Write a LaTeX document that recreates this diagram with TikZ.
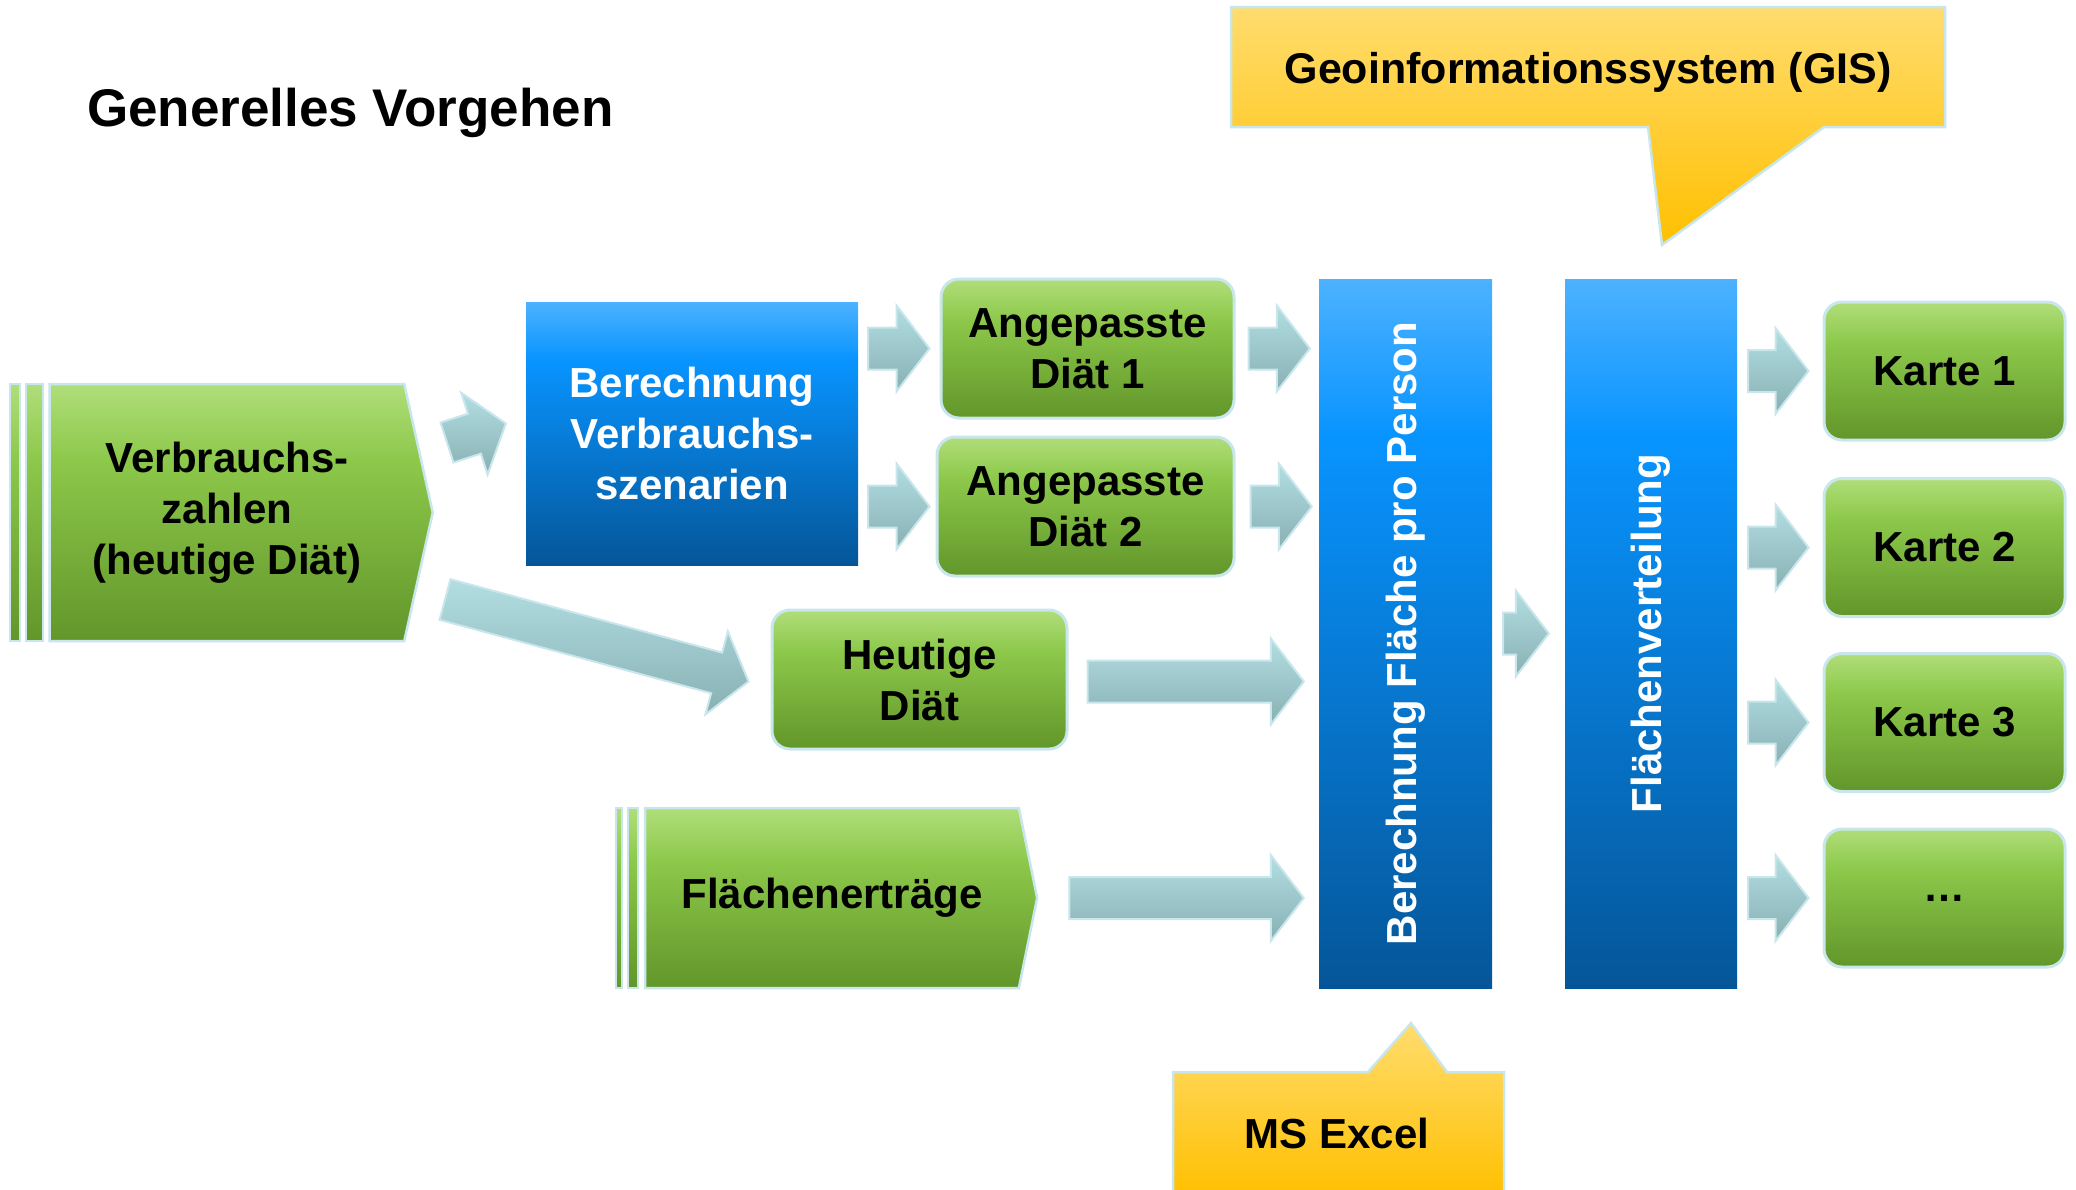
\documentclass[tikz,border=0pt]{standalone}
\usepackage{fontspec}
\setmainfont{Liberation Sans}
\usepackage{tikz}
\usetikzlibrary{calc,shapes.symbols}
\usepackage{xcolor}
\definecolor{mybluetop}{RGB}{77,178,255}
\definecolor{mybluemid}{RGB}{8,148,255}
\definecolor{mybluebot}{RGB}{5,86,152}
\definecolor{mygreentop}{RGB}{176,222,122}
\definecolor{mygreenmid}{RGB}{140,200,74}
\definecolor{mygreenbot}{RGB}{98,150,42}
\definecolor{myyellowtop}{RGB}{255,220,110}
\definecolor{myyellowbot}{RGB}{255,192,0}
\definecolor{myarrowtop}{RGB}{178,222,226}
\definecolor{myarrowbot}{RGB}{136,176,179}
\definecolor{myedge}{RGB}{200,230,235}
\pgfdeclareverticalshading{bluefill}{100bp}{color(0bp)=(mybluebot); color(25bp)=(mybluebot); color(64bp)=(mybluemid); color(75bp)=(mybluetop); color(100bp)=(mybluetop)}
\pgfdeclareverticalshading{greenfill}{100bp}{color(0bp)=(mygreenbot); color(25bp)=(mygreenbot); color(60bp)=(mygreenmid); color(75bp)=(mygreentop); color(100bp)=(mygreentop)}
\tikzstyle{box}=[font=\fontsize{42}{51}\selectfont\bfseries,align=center,inner sep=0]
\tikzstyle{box blue}=[box,text=white,shade,shading=bluefill]
\tikzstyle{box green}=[box,shade,shading=greenfill,draw=myedge,line width=3pt,rounded corners=18pt]
\tikzstyle{chevron}=[box,shape=signal,signal to=east,shade,shading=greenfill,draw=myedge,line width=2.5pt]
\tikzstyle{stripe}=[shade,shading=greenfill,draw=myedge,line width=2.5pt]
\tikzstyle{callout}=[top color=myyellowtop,bottom color=myyellowbot,draw=myedge,line width=2.5pt]
\tikzstyle{flow}=[top color=myarrowtop,bottom color=myarrowbot,draw=myedge,line width=2pt]
% block arrow from #1 to #2
\newcommand{\flowarrow}[2]{%
  \coordinate (fa-s) at #1;
  \coordinate (fa-t) at #2;
  \coordinate (fa-h) at ($(fa-t)!33pt!(fa-s)$);
  \path[flow] ($(fa-s)!21pt!90:(fa-t)$) -- ($(fa-h)!21pt!90:(fa-t)$) -- ($(fa-h)!43pt!90:(fa-t)$)
    -- (fa-t) -- ($(fa-h)!43pt!-90:(fa-t)$) -- ($(fa-h)!21pt!-90:(fa-t)$) -- ($(fa-s)!21pt!-90:(fa-t)$) -- cycle;}

\begin{document}
\begin{tikzpicture}[x=1pt,y=-1pt]
  \useasboundingbox (0,0) rectangle (2076,1189);

  % TITLE
  \node[anchor=base west,inner sep=0,font=\fontsize{53}{60}\selectfont\bfseries] (title) at (87,126) {Generelles Vorgehen};

  % INPUTS
  \path[stripe] (10,384) rectangle (20,641);
  \path[stripe] (26,384) rectangle (43,641);
  \node[chevron,signal pointer angle=155,minimum width=383pt,minimum height=257pt] (vz) at (227,512.5) {Verbrauchs-\\zahlen\\(heutige Diät)};

  \path[stripe] (616,808) rectangle (622,988);
  \path[stripe] (628,808) rectangle (638,988);
  \node[chevron,signal pointer angle=157,minimum width=392pt,minimum height=180pt] (fe) at (832,898) {Flächenerträge};

  % DRAW NODES
  \node[box blue,minimum width=332pt,minimum height=263pt] (bvs) at (692,433.5) {Berechnung\\Verbrauchs-\\szenarien};
  \node[box green,minimum width=293pt,minimum height=139pt] (ang1) at (1087.5,348.5) {Angepasste\\Diät 1};
  \node[box green,minimum width=297pt,minimum height=139pt] (ang2) at (1085.5,506.5) {Angepasste\\Diät 2};
  \node[box green,minimum width=295pt,minimum height=139pt] (hd) at (919.5,679.5) {Heutige\\Diät};

  \node[box blue,minimum width=173pt,minimum height=709pt] (bfp) at (1405.5,633.5) {};
  \node[box,text=white,rotate=90] (bfp-text) at (bfp) {Berechnung Fläche pro Person};
  \node[box blue,minimum width=172pt,minimum height=709pt] (fv) at (1651,633.5) {};
  \node[box,text=white,rotate=90] (fv-text) at (fv) {Flächenverteilung};

  \foreach \i/\t/\y in {1/Karte 1/371,2/Karte 2/547.5,3/Karte 3/722.5,4/…/898}{
    \node[box green,minimum width=241pt,minimum height=138pt] (k\i) at (1944.5,\y) {\t};
  }

  % CALLOUTS
  \path[callout] (1231,7) -- (1945,7) -- (1945,127) -- (1824,127) -- (1662,245) -- (1648,127) -- (1231,127) -- cycle;
  \node[box,font=\fontsize{43}{51}\selectfont\bfseries] (gis) at (1588,72) {Geoinformationssystem (GIS)};
  \path[callout] (1173,1196) -- (1173,1072) -- (1368,1072) -- (1411,1023) -- (1447,1072) -- (1504,1072) -- (1504,1196) -- cycle;
  \node[box] (excel) at (1337,1133) {MS Excel};

  % DRAW EDGES
  \flowarrow{($(vz.east)+(13,-70)$)}{($(bvs.west)+(-20,-10)$)}
  \flowarrow{($(vz.east)+(11,87)$)}{($(hd.west)+(-22,2)$)}
  \flowarrow{($(bvs.east |- ang1)+(10,0)$)}{($(ang1.west)+(-10,0)$)}
  \flowarrow{($(bvs.east |- ang2)+(10,0)$)}{($(ang2.west)+(-6,0)$)}
  \flowarrow{($(ang1.east)+(13,0)$)}{($(bfp.west |- ang1)+(-9,0)$)}
  \flowarrow{($(ang2.east)+(15,0)$)}{($(bfp.west |- ang2)+(-7,0)$)}
  \flowarrow{($(hd.east)+(19,2)$)}{($(bfp.west |- hd)+(-15,2)$)}
  \flowarrow{($(fe.east)+(31,0)$)}{($(bfp.west |- fe)+(-15,0)$)}
  \flowarrow{($(bfp.east)+(11,0)$)}{($(fv.west)+(-16,0)$)}
  \foreach \i in {1,...,4}{
    \flowarrow{($(fv.east |- k\i)+(11,0)$)}{($(k\i.west)+(-14,0)$)}
  }
\end{tikzpicture}
\end{document}
